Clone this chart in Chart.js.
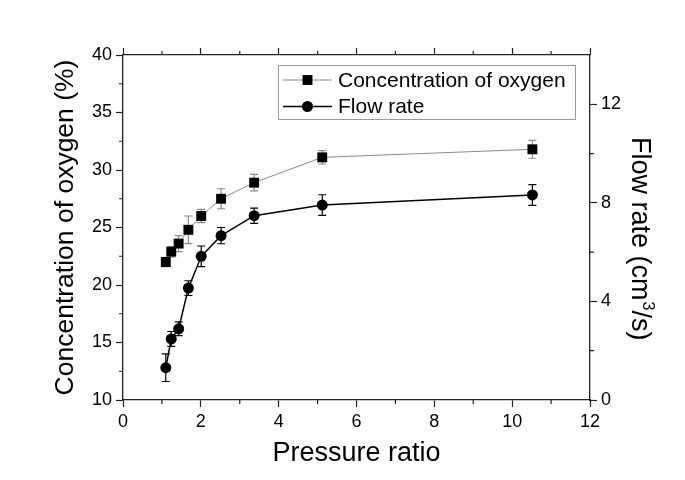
<!DOCTYPE html>
<html><head><meta charset="utf-8">
<script src="https://cdn.jsdelivr.net/npm/chart.js@4"></script>
<style>html,body{margin:0;padding:0;background:#fff}#wrap{width:685px;height:480px}</style>
</head><body><div id="wrap"><canvas id="c" width="685" height="480"></canvas></div>
<script>
const pressureRatio = [1.10, 1.24, 1.43, 1.68, 2.01, 2.52, 3.37, 5.12, 10.52];
const oxygenConc    = [22.0, 22.9, 23.6, 24.8, 26.0, 27.5, 28.9, 31.1, 31.8];
const oxygenErr     = [0.4, 0.45, 0.7, 1.2, 0.58, 0.87, 0.72, 0.58, 0.78];
const flowRate      = [1.31, 2.48, 2.89, 4.54, 5.83, 6.67, 7.48, 7.91, 8.32];
const flowErr       = [0.56, 0.3, 0.28, 0.3, 0.42, 0.33, 0.31, 0.42, 0.42];
const xTicks        = [0, 2, 4, 6, 8, 10, 12];
const yLeftTicks    = [10, 15, 20, 25, 30, 35, 40];
const yRightTicks   = [0, 4, 8, 12];
const xMinorTicks      = [1, 3, 5, 7, 9, 11];
const yLeftMinorTicks  = [12.5, 17.5, 22.5, 27.5, 32.5, 37.5];
const yRightMinorTicks = [2, 6, 10];
const seriesLabels  = ['Concentration of oxygen', 'Flow rate'];
const xTitle = 'Pressure ratio';
const yLeftTitle = 'Concentration of oxygen (%)';
const yRightTitleParts = ['Flow rate (cm', '3', '/s)'];

const FONT = '"Liberation Sans", Arial, sans-serif';
const AXIS = '#222';
const GRAY = '#8a8a8a';

const errBars = {
  id: 'errBars',
  beforeDatasetsDraw(chart) {
    const ctx = chart.ctx;
    const sets = [[0, oxygenErr, GRAY], [1, flowErr, '#000']];
    sets.forEach(([di, errs, col]) => {
      const ds = chart.data.datasets[di];
      const xs = chart.scales.x, ys = chart.scales[ds.yAxisID];
      ctx.save();
      ctx.strokeStyle = col; ctx.lineWidth = 1.2;
      ds.data.forEach((p, i) => {
        const px = xs.getPixelForValue(p.x);
        const y1 = ys.getPixelForValue(p.y + errs[i]);
        const y2 = ys.getPixelForValue(p.y - errs[i]);
        ctx.beginPath();
        ctx.moveTo(px, y1); ctx.lineTo(px, y2);
        ctx.moveTo(px - 4, y1); ctx.lineTo(px + 4, y1);
        ctx.moveTo(px - 4, y2); ctx.lineTo(px + 4, y2);
        ctx.stroke();
      });
      ctx.restore();
    });
  }
};

const minorTicks = {
  id: 'minorTicks',
  afterDraw(chart) {
    const ctx = chart.ctx, a = chart.chartArea, s = chart.scales;
    ctx.save();
    ctx.strokeStyle = AXIS; ctx.lineWidth = 1.2;
    ctx.beginPath();
    xMinorTicks.forEach(v => {
      const px = s.x.getPixelForValue(v);
      ctx.moveTo(px, a.bottom); ctx.lineTo(px, a.bottom + 4);
      ctx.moveTo(px, a.top); ctx.lineTo(px, a.top - 4);
    });
    yLeftMinorTicks.forEach(v => {
      const py = s.y.getPixelForValue(v);
      ctx.moveTo(a.left, py); ctx.lineTo(a.left - 4, py);
    });
    yRightMinorTicks.forEach(v => {
      const py = s.y2.getPixelForValue(v);
      ctx.moveTo(a.right, py); ctx.lineTo(a.right + 4, py);
    });
    ctx.stroke();
    ctx.restore();
  }
};

const rightTitle = {
  id: 'rightTitle',
  afterDraw(chart) {
    const ctx = chart.ctx;
    ctx.save();
    ctx.translate(632, 137);
    ctx.rotate(Math.PI / 2);
    ctx.fillStyle = '#000';
    ctx.textBaseline = 'alphabetic';
    ctx.textAlign = 'left';
    ctx.font = '27px ' + FONT;
    let x = 0;
    ctx.fillText(yRightTitleParts[0], x, 0);
    x += ctx.measureText(yRightTitleParts[0]).width + 1;
    ctx.font = '16px ' + FONT;
    ctx.fillText(yRightTitleParts[1], x, -11);
    x += ctx.measureText(yRightTitleParts[1]).width;
    ctx.font = '27px ' + FONT;
    ctx.fillText(yRightTitleParts[2], x, 0);
    ctx.restore();
  }
};

const customLegend = {
  id: 'customLegend',
  afterDraw(chart) {
    const ctx = chart.ctx;
    const bx = 278.5, by = 65.5, bw = 297, bh = 54;
    ctx.save();
    ctx.fillStyle = '#fff';
    ctx.fillRect(bx, by, bw, bh);
    ctx.strokeStyle = '#9a9a9a'; ctx.lineWidth = 1;
    ctx.strokeRect(bx, by, bw, bh);
    const rows = [80, 106.5];
    chart.data.datasets.forEach((ds, i) => {
      const y = rows[i];
      ctx.strokeStyle = ds.borderColor; ctx.lineWidth = ds.borderWidth;
      ctx.beginPath(); ctx.moveTo(283, y); ctx.lineTo(332, y); ctx.stroke();
      ctx.fillStyle = '#000';
      Chart.helpers.drawPoint(ctx, {pointStyle: ds.pointStyle, radius: ds.pointRadius, borderWidth: 0}, 307.5, y);
      ctx.fillStyle = '#000';
      ctx.font = '21px ' + FONT;
      ctx.textBaseline = 'middle';
      ctx.textAlign = 'left';
      ctx.fillText(ds.label, 338, y + 1);
    });
    ctx.restore();
  }
};

const tickStyle = {color: '#000', font: {size: 18, family: FONT}, padding: 4};

new Chart(document.getElementById('c'), {
  type: 'line',
  data: {
    datasets: [
      {
        label: seriesLabels[0], yAxisID: 'y',
        data: pressureRatio.map((x, i) => ({x, y: oxygenConc[i]})),
        borderColor: GRAY, borderWidth: 1, backgroundColor: '#000',
        pointStyle: 'rect', pointRadius: 7, pointBorderWidth: 0, pointBackgroundColor: '#000',
        tension: 0
      },
      {
        label: seriesLabels[1], yAxisID: 'y2',
        data: pressureRatio.map((x, i) => ({x, y: flowRate[i]})),
        borderColor: '#000', borderWidth: 1.5, backgroundColor: '#000',
        pointStyle: 'circle', pointRadius: 5.5, pointBorderWidth: 0, pointBackgroundColor: '#000',
        tension: 0
      }
    ]
  },
  options: {
    responsive: false, animation: false,
    layout: {padding: 0},
    plugins: {legend: {display: false}, tooltip: {enabled: false}},
    scales: {
      x: {
        type: 'linear', position: 'bottom', min: 0, max: 12,
        afterBuildTicks: s => { s.ticks = xTicks.map(v => ({value: v})); },
        afterFit: s => { s.height = 80; },
        ticks: tickStyle,
        grid: {drawOnChartArea: false, tickLength: 7, tickColor: AXIS, tickWidth: 1.2},
        border: {color: AXIS, width: 1.3},
        title: {display: true, text: xTitle, color: '#000', font: {size: 27, family: FONT}, padding: {top: 0, bottom: 10}}
      },
      x2: {
        type: 'linear', position: 'top', min: 0, max: 12,
        afterBuildTicks: s => { s.ticks = xTicks.map(v => ({value: v})); },
        afterFit: s => { s.height = 55; },
        ticks: {display: false},
        grid: {drawOnChartArea: false, tickLength: 7, tickColor: AXIS, tickWidth: 1.2},
        border: {color: AXIS, width: 1.3}
      },
      y: {
        type: 'linear', position: 'left', min: 10, max: 40,
        afterBuildTicks: s => { s.ticks = yLeftTicks.map(v => ({value: v})); },
        afterFit: s => { s.width = 123; },
        ticks: tickStyle,
        grid: {drawOnChartArea: false, tickLength: 7, tickColor: AXIS, tickWidth: 1.2},
        border: {color: AXIS, width: 1.3},
        title: {display: true, text: yLeftTitle, color: '#000', font: {size: 26.5, family: FONT}, padding: {top: 50, bottom: 0}}
      },
      y2: {
        type: 'linear', position: 'right', min: 0, max: 14,
        afterBuildTicks: s => { s.ticks = yRightTicks.map(v => ({value: v})); },
        afterFit: s => { s.width = 95; },
        ticks: tickStyle,
        grid: {drawOnChartArea: false, tickLength: 7, tickColor: AXIS, tickWidth: 1.2},
        border: {color: AXIS, width: 1.3}
      }
    }
  },
  plugins: [errBars, minorTicks, customLegend, rightTitle]
});
</script>
</body></html>
